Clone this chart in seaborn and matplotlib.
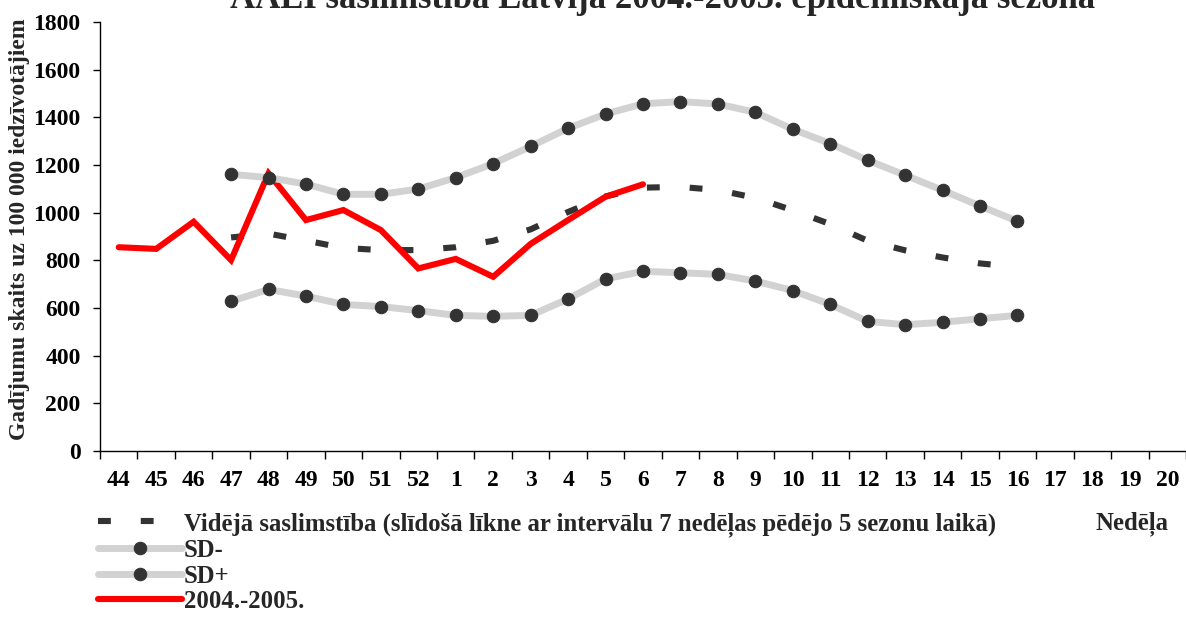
import numpy as np
import pandas as pd
import matplotlib
matplotlib.use("Agg")
import matplotlib.pyplot as plt
import seaborn as sns

# ---------------- data ----------------
weeks = ["44", "45", "46", "47", "48", "49", "50", "51", "52",
         "1", "2", "3", "4", "5", "6", "7", "8", "9", "10",
         "11", "12", "13", "14", "15", "16", "17", "18", "19", "20"]

season_weeks = ["44", "45", "46", "47", "48", "49", "50", "51", "52",
                "1", "2", "3", "4", "5", "6"]
season_vals = [855, 848, 962, 801, 1165, 969, 1011, 927, 766,
               806, 731, 869, 969, 1067, 1119]

band_weeks = ["47", "48", "49", "50", "51", "52", "1", "2", "3", "4", "5",
              "6", "7", "8", "9", "10", "11", "12", "13", "14", "15", "16"]
mean_vals = [896, 912, 883, 852, 843, 843, 855, 882, 930, 1003, 1068,
             1105, 1108, 1095, 1062, 1010, 952, 882, 842, 812, 787, 772]
sd_minus = [628, 678, 650, 615, 606, 589, 569, 565, 569, 638, 722,
            754, 748, 741, 713, 673, 615, 544, 530, 540, 555, 569]
sd_plus = [1161, 1147, 1120, 1077, 1077, 1099, 1147, 1206, 1278, 1354, 1414,
           1457, 1466, 1456, 1421, 1350, 1290, 1220, 1157, 1094, 1028, 964]

y_ticks = [0, 200, 400, 600, 800, 1000, 1200, 1400, 1600, 1800]

title = "AAEI saslimstība Latvijā 2004.-2005. epidēmiskajā sezonā"
y_label = "Gadījumu skaits uz 100 000 iedzīvotājiem"
x_label = "Nedēļa"
lbl_mean = "Vidējā saslimstība (slīdošā līkne ar intervālu 7 nedēļas pēdējo 5 sezonu laikā)"
lbl_sdm = "SD-"
lbl_sdp = "SD+"
lbl_season = "2004.-2005."

# ---------------- frames ----------------
pos = {w: i for i, w in enumerate(weeks)}
df_season = pd.DataFrame({"x": [pos[w] for w in season_weeks], "y": season_vals})
df_band = pd.DataFrame({"x": [pos[w] for w in band_weeks],
                        "mean": mean_vals, "sdm": sd_minus, "sdp": sd_plus})

sns.set_theme(style="white")
plt.rcParams["font.family"] = ["Liberation Serif", "DejaVu Serif"]
plt.rcParams["font.weight"] = "bold"

W, H = 1186, 617
fig = plt.figure(figsize=(W / 100, H / 100), dpi=100)
ax = fig.add_axes([100 / W, (H - 451) / H, 1086 / W, 429 / H])

DARK = "#333333"
GRAY = "#d2d2d2"

sns.lineplot(data=df_band, x="x", y="mean", ax=ax, color=DARK, lw=4.4,
             linestyle=(0, (2.1, 4.9)), label=lbl_mean, zorder=2,
             errorbar=None)
sns.lineplot(data=df_band, x="x", y="sdm", ax=ax, color=GRAY, lw=5,
             marker="o", markersize=9, markerfacecolor=DARK,
             markeredgecolor=DARK, label=lbl_sdm, zorder=4, errorbar=None)
sns.lineplot(data=df_band, x="x", y="sdp", ax=ax, color=GRAY, lw=5,
             marker="o", markersize=9, markerfacecolor=DARK,
             markeredgecolor=DARK, label=lbl_sdp, zorder=4, errorbar=None)
sns.lineplot(data=df_season, x="x", y="y", ax=ax, color="#ff0000", lw=4.4,
             label=lbl_season, zorder=3, errorbar=None,
             solid_capstyle="round", solid_joinstyle="miter")

# ---------------- axes ----------------
ax.set_xlim(-0.5, len(weeks) - 0.5)
ax.set_ylim(0, 1800)
ax.set_xlabel("")
ax.set_ylabel("")
ax.set_xticks(np.arange(-0.5, len(weeks), 1.0))
ax.set_xticklabels([])
ax.set_xticks(np.arange(len(weeks)), minor=True)
ax.set_xticklabels(weeks, minor=True)
ax.tick_params(axis="x", which="major", direction="out", length=6,
               width=1, color="black", bottom=True)
ax.tick_params(axis="x", which="minor", length=0, pad=14, labelsize=17,
               bottom=True)
ax.set_yticks(y_ticks)
ax.set_yticklabels([str(v) for v in y_ticks])
ax.tick_params(axis="y", direction="out", length=5, width=1, color="black",
               pad=9, labelsize=17, left=True)
for lab in ax.get_xticklabels(minor=True) + ax.get_yticklabels():
    lab.set_fontweight("bold")
    lab.set_color("black")

for s in ["top", "right"]:
    ax.spines[s].set_visible(False)
for s in ["left", "bottom"]:
    ax.spines[s].set_color("black")
    ax.spines[s].set_linewidth(1)
ax.grid(False)

# ---------------- legend ----------------
handles, labels = ax.get_legend_handles_labels()
ax.get_legend().remove()
leg = fig.legend(handles, labels, loc="upper left",
                 bbox_to_anchor=(98 / W, 1 - 512 / H),
                 frameon=False, fontsize=17.8, handlelength=3.4,
                 handletextpad=0.08, labelspacing=0.1, borderpad=0,
                 borderaxespad=0, numpoints=1)
for t in leg.get_texts():
    t.set_fontweight("bold")

# ---------------- texts ----------------
fig.text(663 / W, 1 - 8 / H, title, ha="center", va="baseline",
         fontsize=25, fontweight="bold")
fig.text(20 / W, 1 - 229 / H, y_label, rotation=90, ha="center",
         va="center", fontsize=17.0, fontweight="bold")
fig.text(1132 / W, 1 - 524 / H, x_label, ha="center", va="center",
         fontsize=17.8, fontweight="bold")

fig.savefig("out.png", dpi=100)
